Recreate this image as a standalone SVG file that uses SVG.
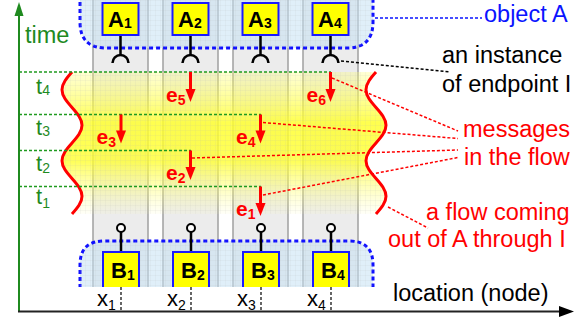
<svg xmlns="http://www.w3.org/2000/svg" width="586" height="321" viewBox="0 0 586 321">
<defs>
<style>
.lbl{font-family:"Liberation Sans",Arial,sans-serif;font-size:23.5px}
.red{fill:#ff0000}
.blk{fill:#000}
.blu{fill:#0a14ff}
.box{fill:#ffff00;stroke:#1a1aff;stroke-width:2}
.bl{font-family:"Liberation Sans",Arial,sans-serif;font-weight:bold;font-size:22px;fill:#000}
.sub{font-size:14px}
.ev{font-family:"Liberation Sans",Arial,sans-serif;font-weight:bold;font-size:21px;fill:#ff0000}
.tl{font-family:"Liberation Sans",Arial,sans-serif;font-size:22px;fill:#1f8a1f}
.xl{font-family:"Liberation Sans",Arial,sans-serif;font-size:22px;fill:#000}
.col{fill:#ececec;stroke:#a0a0a0;stroke-width:1.5}
.ep{stroke:#000;stroke-width:2.5;fill:none}
.epc{stroke:#000;stroke-width:2;fill:#fff}
.tline{stroke:#1f9a1f;stroke-width:1.5;stroke-dasharray:3 2;fill:none}
.rdot{stroke:#ff0000;stroke-width:1.5;stroke-dasharray:3 2;fill:none}
.kdot{stroke:#000;stroke-width:1.5;stroke-dasharray:3 2;fill:none}
.bdot{stroke:#0a14ff;stroke-width:1.5;stroke-dasharray:3 2;fill:none}
.xdot{stroke:#000;stroke-width:1.2;stroke-dasharray:3 2;fill:none}
.arr{stroke:#ff0000;stroke-width:3;marker-end:url(#ah)}
.wave{fill:none;stroke:#ff0000;stroke-width:3}
.region{stroke:#1010ff;stroke-width:3;stroke-dasharray:4 3;fill:#c6e2f4;fill-opacity:0.55}
.grid{fill:url(#gridp)}
</style>
<marker id="ah" markerUnits="userSpaceOnUse" markerWidth="14" markerHeight="12" refX="2" refY="0" orient="auto" viewBox="0 -6 14 12" overflow="visible">
<path d="M0,-5 L13,0 L0,5 Z" fill="#ff0000"/>
</marker>
<pattern id="gridp" width="5" height="5" patternUnits="userSpaceOnUse">
<path d="M5,0 L0,0 L0,5" fill="none" stroke="#b8b8b8" stroke-opacity="0.35" stroke-width="0.6"/>
</pattern>
<linearGradient id="yg" gradientUnits="userSpaceOnUse" x1="0" y1="72" x2="0" y2="216">
<stop offset="0" stop-color="#ffff70" stop-opacity="0.3"/>
<stop offset="0.35" stop-color="#ffff30" stop-opacity="0.85"/>
<stop offset="0.62" stop-color="#ffff30" stop-opacity="0.8"/>
<stop offset="1" stop-color="#ffffa0" stop-opacity="0.05"/>
</linearGradient>
<clipPath id="clipTop"><rect x="0" y="0" width="586" height="287"/></clipPath>
</defs>

<g id="background" clip-path="url(#clipTop)">
<rect class="col" x="93" y="-2" width="55" height="292"/>
<rect class="col" x="163" y="-2" width="55" height="292"/>
<rect class="col" x="233" y="-2" width="55" height="292"/>
<rect class="col" x="303" y="-2" width="55" height="292"/>
</g>

<g id="flow">
<path id="flowfill" d="M72,72 C66.75,77.93 62,83.36 62,89.75 C62,96.14 66.75,101.57 72,107.5 C77.25,113.43 82,118.86 82,125.25 C82,131.64 77.25,137.07 72,143 C66.75,148.93 62,154.36 62,160.75 C62,167.14 66.75,172.57 72,178.5 C77.25,184.43 82,189.86 82,196.25 C82,202.64 77.25,208.07 72,214 L376,214 C381.25,208.07 386,202.64 386,196.25 C386,189.86 381.25,184.43 376,178.5 C370.75,172.57 366,167.14 366,160.75 C366,154.36 370.75,148.93 376,143 C381.25,137.07 386,131.64 386,125.25 C386,118.86 381.25,113.43 376,107.5 C370.75,101.57 366,96.14 366,89.75 C366,83.36 370.75,77.93 376,72 Z" fill="url(#yg)"/>
<path d="M72,72 C66.75,77.93 62,83.36 62,89.75 C62,96.14 66.75,101.57 72,107.5 C77.25,113.43 82,118.86 82,125.25 C82,131.64 77.25,137.07 72,143 C66.75,148.93 62,154.36 62,160.75 C62,167.14 66.75,172.57 72,178.5 C77.25,184.43 82,189.86 82,196.25 C82,202.64 77.25,208.07 72,214 L376,214 C381.25,208.07 386,202.64 386,196.25 C386,189.86 381.25,184.43 376,178.5 C370.75,172.57 366,167.14 366,160.75 C366,154.36 370.75,148.93 376,143 C381.25,137.07 386,131.64 386,125.25 C386,118.86 381.25,113.43 376,107.5 C370.75,101.57 366,96.14 366,89.75 C366,83.36 370.75,77.93 376,72 Z" class="grid"/>
<path class="wave" d="M72,72 C66.75,77.93 62,83.36 62,89.75 C62,96.14 66.75,101.57 72,107.5 C77.25,113.43 82,118.86 82,125.25 C82,131.64 77.25,137.07 72,143 C66.75,148.93 62,154.36 62,160.75 C62,167.14 66.75,172.57 72,178.5 C77.25,184.43 82,189.86 82,196.25 C82,202.64 77.25,208.07 72,214"/>
<path class="wave" d="M376,72 C370.75,77.93 366,83.36 366,89.75 C366,96.14 370.75,101.57 376,107.5 C381.25,113.43 386,118.86 386,125.25 C386,131.64 381.25,137.07 376,143 C370.75,148.93 366,154.36 366,160.75 C366,167.14 370.75,172.57 376,178.5 C381.25,184.43 386,189.86 386,196.25 C386,202.64 381.25,208.07 376,214"/>
</g>

<g id="objectA">
<path class="region" d="M80,-5 L80,22 Q80,48 106,48 L347,48 Q373,48 373,22 L373,-5"/>
<path class="grid" d="M80,-5 L80,22 Q80,48 106,48 L347,48 Q373,48 373,22 L373,-5 Z"/>
</g>
<g id="objectB" clip-path="url(#clipTop)">
<path class="region" d="M80,295 L80,265 Q80,241 104,241 L349,241 Q373,241 373,265 L373,295"/>
<path class="grid" d="M80,295 L80,265 Q80,241 104,241 L349,241 Q373,241 373,265 L373,295 Z"/>
</g>

<g id="timelines">
<line class="tline" x1="19" y1="72" x2="331" y2="72"/>
<line class="tline" x1="19" y1="114.5" x2="261" y2="114.5"/>
<line class="tline" x1="19" y1="150.5" x2="191" y2="150.5"/>
<line class="tline" x1="19" y1="186.5" x2="261" y2="186.5"/>
<text class="tl" x="36" y="94">t<tspan class="sub" dy="1">4</tspan></text>
<text class="tl" x="36" y="134.5">t<tspan class="sub" dy="1.5">3</tspan></text>
<text class="tl" x="36" y="171">t<tspan class="sub" dy="2">2</tspan></text>
<text class="tl" x="36" y="204">t<tspan class="sub" dy="4">1</tspan></text>
</g>

<g id="A1">
<line class="ep" x1="120.5" y1="35" x2="120.5" y2="55"/>
<path class="ep" d="M112.5,63 A8,8 0 0 1 128.5,63"/>
<rect class="box" x="102.5" y="3" width="36" height="32"/>
<text class="bl" x="108" y="27">A<tspan class="sub" dy="1">1</tspan></text>
</g>
<g id="A2">
<line class="ep" x1="190.5" y1="35" x2="190.5" y2="55"/>
<path class="ep" d="M182.5,63 A8,8 0 0 1 198.5,63"/>
<rect class="box" x="172.5" y="3" width="36" height="32"/>
<text class="bl" x="178" y="27">A<tspan class="sub" dy="1">2</tspan></text>
</g>
<g id="A3">
<line class="ep" x1="260.5" y1="35" x2="260.5" y2="55"/>
<path class="ep" d="M252.5,63 A8,8 0 0 1 268.5,63"/>
<rect class="box" x="242.5" y="3" width="36" height="32"/>
<text class="bl" x="248" y="27">A<tspan class="sub" dy="1">3</tspan></text>
</g>
<g id="A4">
<line class="ep" x1="330.5" y1="35" x2="330.5" y2="55"/>
<path class="ep" d="M322.5,63 A8,8 0 0 1 338.5,63"/>
<rect class="box" x="312.5" y="3" width="36" height="32"/>
<text class="bl" x="318" y="27">A<tspan class="sub" dy="1">4</tspan></text>
</g>

<g id="B1" clip-path="url(#clipTop)">
<line class="ep" x1="121" y1="232" x2="121" y2="252"/>
<circle class="epc" cx="121" cy="228" r="4"/>
<rect class="box" x="103" y="252" width="36" height="40"/>
<text class="bl" x="111" y="278">B<tspan class="sub" dy="2">1</tspan></text>
</g>
<g id="B2" clip-path="url(#clipTop)">
<line class="ep" x1="191" y1="232" x2="191" y2="252"/>
<circle class="epc" cx="191" cy="228" r="4"/>
<rect class="box" x="173" y="252" width="36" height="40"/>
<text class="bl" x="181" y="278">B<tspan class="sub" dy="2">2</tspan></text>
</g>
<g id="B3" clip-path="url(#clipTop)">
<line class="ep" x1="261" y1="232" x2="261" y2="252"/>
<circle class="epc" cx="261" cy="228" r="4"/>
<rect class="box" x="243" y="252" width="36" height="40"/>
<text class="bl" x="251" y="278">B<tspan class="sub" dy="2">3</tspan></text>
</g>
<g id="B4" clip-path="url(#clipTop)">
<line class="ep" x1="331" y1="232" x2="331" y2="252"/>
<circle class="epc" cx="331" cy="228" r="4"/>
<rect class="box" x="313" y="252" width="36" height="40"/>
<text class="bl" x="321" y="278">B<tspan class="sub" dy="2">4</tspan></text>
</g>

<g id="messages">
<g id="e5"><line class="arr" x1="190.5" y1="72" x2="190.5" y2="91"/><text class="ev" x="166" y="101.5">e<tspan class="sub" dy="3">5</tspan></text></g>
<g id="e6"><line class="arr" x1="330.5" y1="72" x2="330.5" y2="91"/><text class="ev" x="306.5" y="101.5">e<tspan class="sub" dy="3">6</tspan></text></g>
<g id="e3"><line class="arr" x1="121" y1="114.5" x2="121" y2="132.5"/><text class="ev" x="96.5" y="143.5">e<tspan class="sub" dy="3">3</tspan></text></g>
<g id="e4"><line class="arr" x1="260.5" y1="114.5" x2="260.5" y2="132.5"/><text class="ev" x="236" y="143.5">e<tspan class="sub" dy="3">4</tspan></text></g>
<g id="e2"><line class="arr" x1="190.5" y1="150.5" x2="190.5" y2="169"/><text class="ev" x="166" y="179.5">e<tspan class="sub" dy="3">2</tspan></text></g>
<g id="e1"><line class="arr" x1="260.5" y1="186.5" x2="260.5" y2="205"/><text class="ev" x="236" y="215.5">e<tspan class="sub" dy="3">1</tspan></text></g>
</g>

<g id="connectors">
<line class="bdot" x1="375" y1="18" x2="482" y2="18"/>
<line class="kdot" x1="341" y1="61" x2="450" y2="72"/>
<line class="rdot" x1="332" y1="78" x2="458" y2="131"/>
<line class="rdot" x1="263" y1="122.5" x2="458" y2="138.5"/>
<line class="rdot" x1="192" y1="158" x2="458" y2="150"/>
<line class="rdot" x1="263" y1="195" x2="458" y2="157.5"/>
<line class="rdot" x1="388" y1="207" x2="428" y2="228"/>
<line class="xdot" x1="121" y1="287" x2="121" y2="310"/>
<line class="xdot" x1="191" y1="287" x2="191" y2="310"/>
<line class="xdot" x1="261" y1="287" x2="261" y2="310"/>
<line class="xdot" x1="331" y1="287" x2="331" y2="310"/>
</g>

<g id="axes">
<line x1="19" y1="312" x2="19" y2="14" stroke="#1f8a1f" stroke-width="2"/>
<path d="M19,2 L23.5,16 L14.5,16 Z" fill="#1f8a1f"/>
<line x1="18" y1="311.5" x2="561" y2="311.5" stroke="#222" stroke-width="2"/>
<path d="M574,311.5 L559,306 L559,317 Z" fill="#000"/>
<text class="tl" x="25" y="43" style="font-size:23.5px">time</text>
<text class="lbl blk" x="393" y="301">location (node)</text>
<text class="xl" x="97" y="306">x<tspan class="sub" dy="3.5">1</tspan></text>
<text class="xl" x="167" y="306">x<tspan class="sub" dy="3.5">2</tspan></text>
<text class="xl" x="237" y="306">x<tspan class="sub" dy="3.5">3</tspan></text>
<text class="xl" x="307" y="306">x<tspan class="sub" dy="3.5">4</tspan></text>
</g>

<g id="labels">
<text class="lbl blu" x="484" y="22">object A</text>
<text class="lbl blk" x="442" y="63">an instance</text>
<text class="lbl blk" x="442" y="92">of endpoint I</text>
<text class="lbl red" x="463" y="137">messages</text>
<text class="lbl red" x="464" y="165">in the flow</text>
<text class="lbl red" x="426" y="220">a flow coming</text>
<text class="lbl red" x="388" y="247">out of A through I</text>
</g>
</svg>
